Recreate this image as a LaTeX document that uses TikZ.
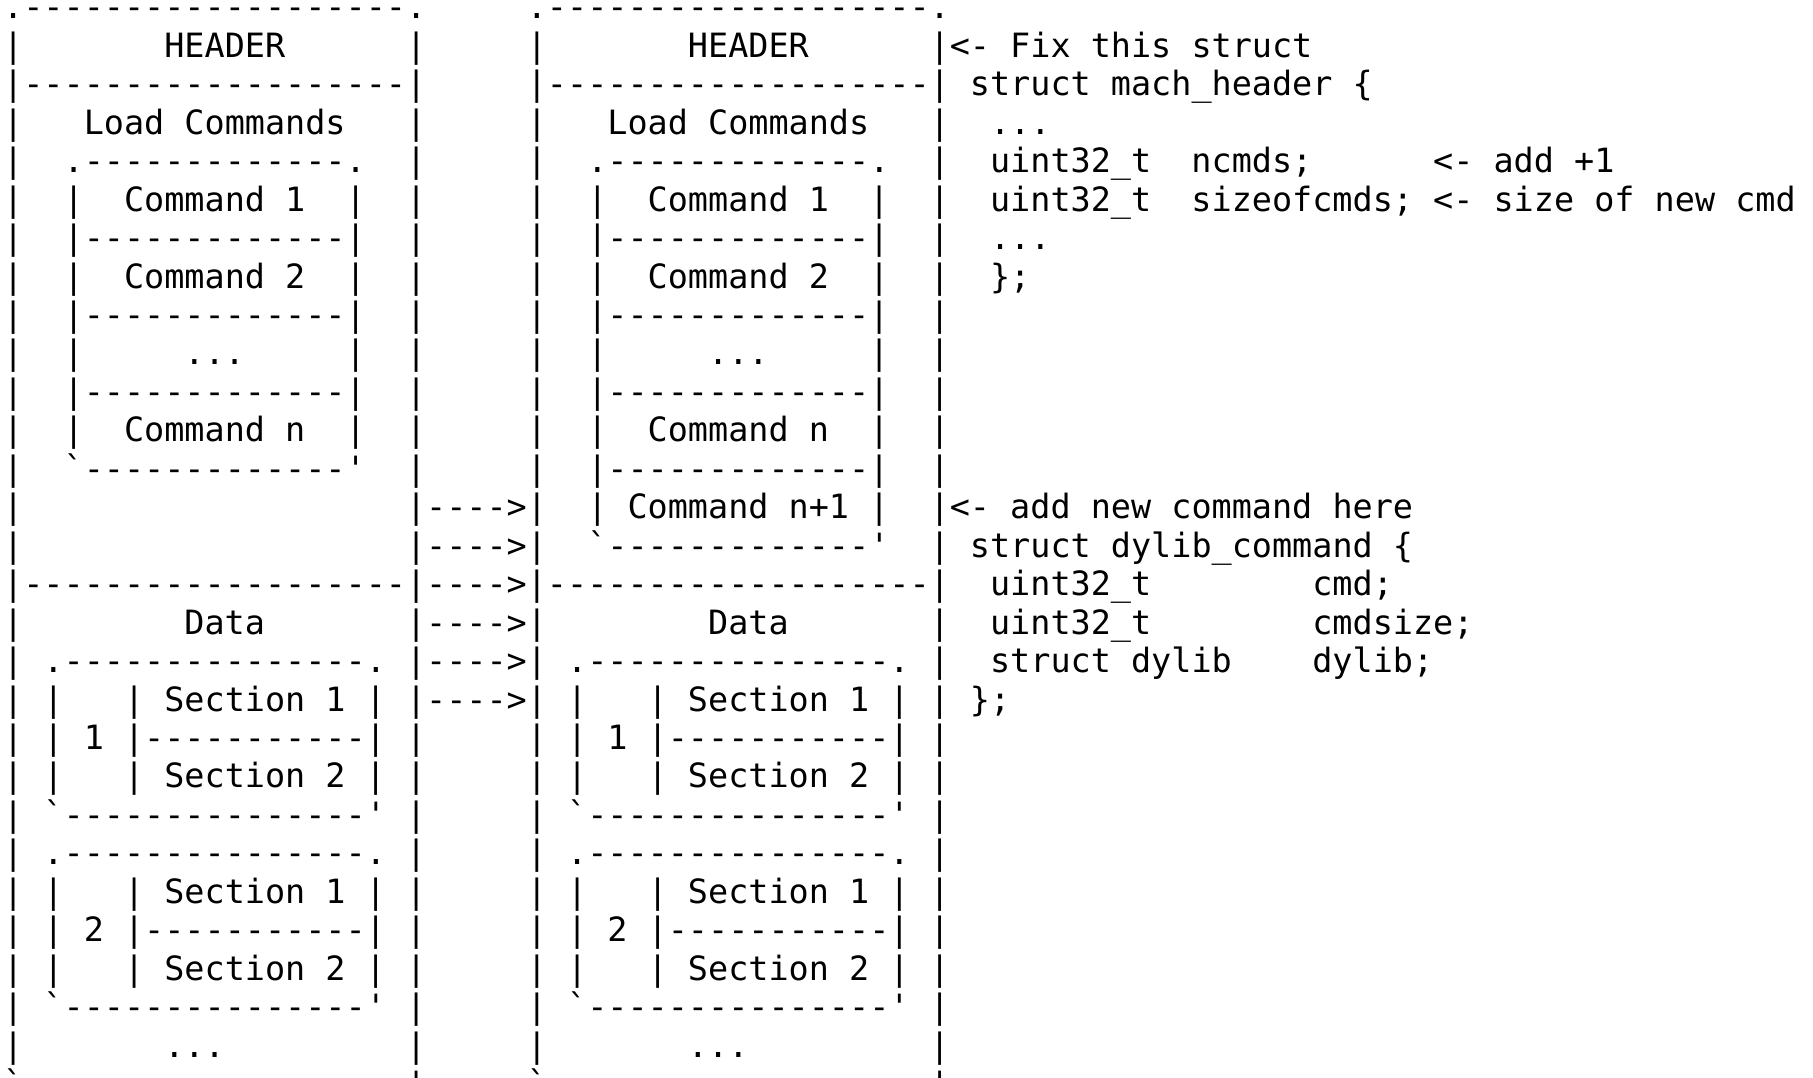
\documentclass[tikz,border=0pt]{standalone}
\usepackage{fontspec}
\setmonofont{DejaVu Sans Mono}

\tikzset{
  ascii/.style={font=\ttfamily\fontsize{16.73pt}{19.22pt}\selectfont,
    inner sep=0pt, outer sep=0pt, anchor=base west},
}

\begin{document}
\begin{tikzpicture}[x=10.07pt,y=-19.225pt]
  \useasboundingbox (-1.6pt,9.45pt) rectangle (904.9pt,-529.05pt);
  \clip (-1.6pt,9.45pt) rectangle (904.9pt,-529.05pt);

  % file layout before (old) and after (new) adding the command
  \foreach \dx/\nm/\last in {0/old/11,26/new/13} {
    \node[ascii] (\nm-top) at (\dx,0) {.-------------------.};
    \node[ascii] (\nm-bot) at (\dx,28) {`-------------------'};
    \foreach \r in {1,...,27} {
      \node[ascii] (\nm-l\r) at (\dx,\r) {|};
      \node[ascii] (\nm-r\r) at (\dx+20,\r) {|};
    }
    \node[ascii] (\nm-header) at (\dx+8,1) {HEADER};
    \node[ascii] (\nm-hline) at (\dx+1,2) {-------------------};
    \node[ascii] (\nm-lc) at (\dx+4,3) {Load Commands};

    % load command list
    \node[ascii] (\nm-cmd-top) at (\dx+3,4) {.-------------.};
    \foreach \r in {5,...,\last} {
      \node[ascii] (\nm-cmd-l\r) at (\dx+3,\r) {|};
      \node[ascii] (\nm-cmd-r\r) at (\dx+17,\r) {|};
    }
    \foreach \r in {6,8,...,\last}
      \node[ascii] (\nm-cmd-line\r) at (\dx+4,\r) {-------------};
    \node[ascii] (\nm-cmd1) at (\dx+6,5) {Command 1};
    \node[ascii] (\nm-cmd2) at (\dx+6,7) {Command 2};
    \node[ascii] (\nm-cmd-dots) at (\dx+9,9) {...};
    \node[ascii] (\nm-cmdn) at (\dx+6,11) {Command n};
    \node[ascii] (\nm-cmd-bot) at (\dx+3,\last+1) {`-------------'};

    % data part with its segments
    \node[ascii] (\nm-dline) at (\dx+1,15) {-------------------};
    \node[ascii] (\nm-data) at (\dx+9,16) {Data};
    \foreach \s/\y in {1/17,2/22} {
      \node[ascii] (\nm-seg\s-top) at (\dx+2,\y) {.---------------.};
      \foreach \k in {1,2,3} {
        \node[ascii] (\nm-seg\s-l\k) at (\dx+2,\y+\k) {|};
        \node[ascii] (\nm-seg\s-m\k) at (\dx+6,\y+\k) {|};
        \node[ascii] (\nm-seg\s-r\k) at (\dx+18,\y+\k) {|};
      }
      \node[ascii] (\nm-seg\s-a) at (\dx+8,\y+1) {Section 1};
      \node[ascii] (\nm-seg\s-num) at (\dx+4,\y+2) {\s};
      \node[ascii] (\nm-seg\s-line) at (\dx+7,\y+2) {-----------};
      \node[ascii] (\nm-seg\s-b) at (\dx+8,\y+3) {Section 2};
      \node[ascii] (\nm-seg\s-bot) at (\dx+2,\y+4) {`---------------'};
    }
    \node[ascii] (\nm-more) at (\dx+8,27) {...};
  }
  \node[ascii] (new-cmdn1) at (31,13) {Command n+1};

  % everything below the new command moves down
  \foreach \r in {13,...,18}
    \node[ascii] (shift\r) at (21,\r) {---->};

  % mach_header notes
  \node[ascii] (fix) at (47,1) {<- Fix this struct};
  \node[ascii] (mh) at (48,2) {struct mach\_header \{};
  \node[ascii] (mh-dots1) at (49,3) {...};
  \node[ascii] (mh-t1) at (49,4) {uint32\_t};
  \node[ascii] (mh-ncmds) at (59,4) {ncmds;};
  \node[ascii] (note-add) at (71,4) {<- add +1};
  \node[ascii] (mh-t2) at (49,5) {uint32\_t};
  \node[ascii] (mh-size) at (59,5) {sizeofcmds;};
  \node[ascii] (note-size) at (71,5) {<- size of new cmd};
  \node[ascii] (mh-dots2) at (49,6) {...};
  \node[ascii] (mh-end) at (49,7) {\};};

  % dylib_command notes
  \node[ascii] (addcmd) at (47,13) {<- add new command here};
  \node[ascii] (dc) at (48,14) {struct dylib\_command \{};
  \node[ascii] (dc-t1) at (49,15) {uint32\_t};
  \node[ascii] (dc-cmd) at (65,15) {cmd;};
  \node[ascii] (dc-t2) at (49,16) {uint32\_t};
  \node[ascii] (dc-size) at (65,16) {cmdsize;};
  \node[ascii] (dc-t3) at (49,17) {struct dylib};
  \node[ascii] (dc-dylib) at (65,17) {dylib;};
  \node[ascii] (dc-end) at (48,18) {\};};
\end{tikzpicture}
\end{document}
